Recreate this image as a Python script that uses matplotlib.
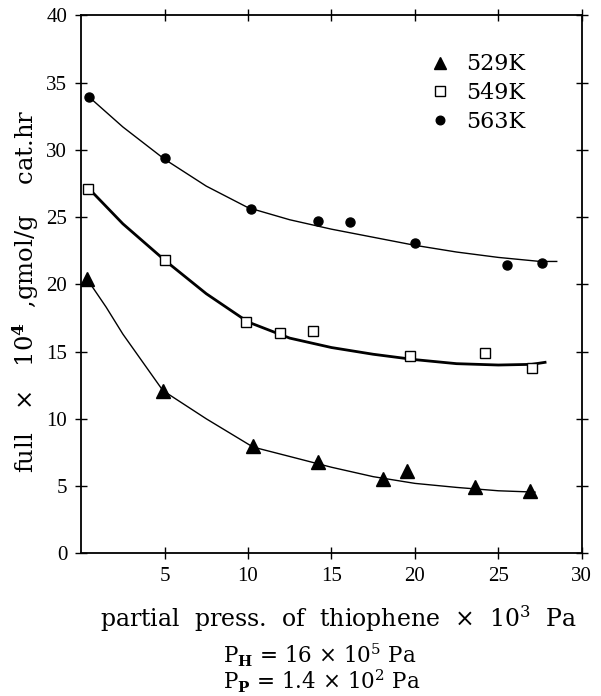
import numpy as np
import matplotlib
matplotlib.use("Agg")
import matplotlib.pyplot as plt

plt.rcParams["font.family"] = ["Liberation Serif", "DejaVu Serif"]
plt.rcParams["mathtext.fontset"] = "custom"
plt.rcParams["mathtext.rm"] = "DejaVu Serif"
plt.rcParams["mathtext.it"] = "DejaVu Serif:italic"
plt.rcParams["mathtext.bf"] = "DejaVu Serif:bold"

LABEL_FONT = "DejaVu Serif"

# measured points (partial pressure x 10^3 Pa, rate x 10^4)
x_529 = [0.35, 4.9, 10.3, 14.2, 18.1, 19.5, 23.6, 26.9]
y_529 = [20.4, 12.1, 8.0, 6.8, 5.5, 6.1, 4.9, 4.65]

x_549 = [0.4, 5.0, 9.9, 11.9, 13.9, 19.7, 24.2, 27.0]
y_549 = [27.1, 21.8, 17.2, 16.4, 16.5, 14.7, 14.9, 13.8]

x_563 = [0.5, 5.0, 10.2, 14.2, 16.1, 20.0, 25.5, 27.6]
y_563 = [33.9, 29.4, 25.6, 24.7, 24.6, 23.1, 21.4, 21.6]

# fitted curves
cx_529 = [0.35, 1.5, 2.5, 4.9, 7.5, 10.3, 12.5, 15.0, 17.5, 20.0, 22.5, 25.0, 27.2]
cy_529 = [20.4, 18.3, 16.3, 12.1, 10.0, 7.9, 7.2, 6.4, 5.7, 5.2, 4.9, 4.65, 4.55]

cx_549 = [0.4, 2.5, 5.0, 7.5, 10.0, 12.5, 15.0, 17.5, 20.0, 22.5, 25.0, 27.0, 27.8]
cy_549 = [27.2, 24.5, 21.8, 19.3, 17.2, 16.0, 15.3, 14.8, 14.4, 14.1, 14.0, 14.05, 14.2]

cx_563 = [0.5, 2.5, 5.0, 7.5, 10.0, 12.5, 15.0, 17.5, 20.0, 22.5, 25.0, 27.5, 28.5]
cy_563 = [33.9, 31.7, 29.3, 27.3, 25.7, 24.8, 24.1, 23.5, 22.9, 22.4, 22.0, 21.7, 21.7]

fig = plt.figure(figsize=(6.01, 6.96), dpi=100)
ax = fig.add_axes([0.135, 0.205, 0.833, 0.773])

ax.plot(cx_563, cy_563, color="black", linewidth=1.0)
ax.plot(cx_549, cy_549, color="black", linewidth=2.0)
ax.plot(cx_529, cy_529, color="black", linewidth=1.0)

ax.plot(x_529, y_529, linestyle="none", marker="^", markersize=9.5,
        color="black", label="529K")
ax.plot(x_549, y_549, linestyle="none", marker="s", markersize=7,
        markerfacecolor="white", markeredgecolor="black", markeredgewidth=1.0,
        label="549K")
ax.plot(x_563, y_563, linestyle="none", marker="o", markersize=6.5,
        color="black", label="563K")

ax.set_xlim(0, 30)
ax.set_ylim(0, 40)
ax.set_xticks([5, 10, 15, 20, 25, 30])
ax.set_yticks(range(0, 45, 5))
ax.tick_params(direction="inout", length=8, width=1.0, labelsize=15,
               top=True, right=True, pad=6)
for s in ax.spines.values():
    s.set_linewidth(1.3)

fig.text(338 / 601, 1 - 619 / 696,
         r"partial  press.  of  thiophene  $\times$  10$^3$  Pa",
         fontsize=17, ha="center", va="center", family=LABEL_FONT)
fig.text(26 / 601, 1 - 291 / 696,
         r"full   $\times$   10$^\mathbf{4}$  ,gmol/g    cat.hr",
         fontsize=17.5, rotation=90, ha="center", va="center", family=LABEL_FONT)

ax.legend(loc="upper right", bbox_to_anchor=(0.91, 0.95), frameon=False,
          prop={"family": LABEL_FONT, "size": 16}, handletextpad=0.7,
          labelspacing=0.3, borderpad=0, handlelength=1.0, markerscale=0.95)

fig.text(0.371, 1 - 655 / 696, r"P$_\mathbf{H}$ = 16 $\times$ 10$^5$ Pa",
         fontsize=15.5, va="center", ha="left", family=LABEL_FONT)
fig.text(0.371, 1 - 681 / 696, r"P$_\mathbf{P}$ = 1.4 $\times$ 10$^2$ Pa",
         fontsize=15.5, va="center", ha="left", family=LABEL_FONT)

fig.savefig("out.png", dpi=100)
